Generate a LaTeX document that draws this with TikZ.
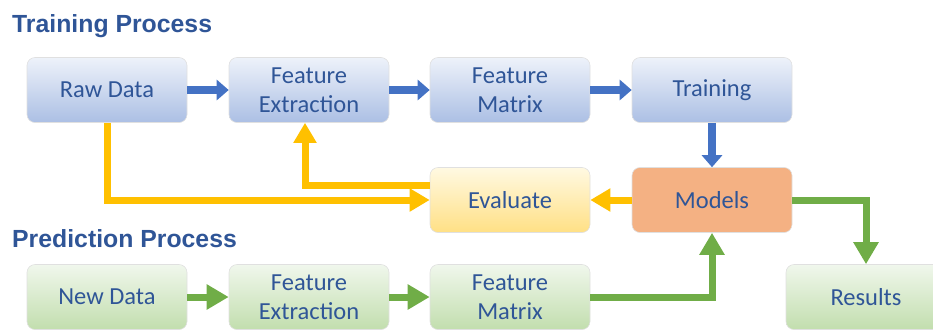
\documentclass[tikz,border=0pt]{standalone}
\usepackage{fontspec}
\setmainfont{Carlito}
\newfontfamily\headfont{Liberation Sans}
\usetikzlibrary{arrows.meta}
\definecolor{txtblue}{HTML}{2F5597}
\definecolor{blueTop}{HTML}{EEF2FA}
\definecolor{blueBot}{HTML}{ABBFE4}
\definecolor{greenTop}{HTML}{F0F7EC}
\definecolor{greenBot}{HTML}{C2DEAE}
\definecolor{yelTop}{HTML}{FFF9E2}
\definecolor{yelBot}{HTML}{FFE085}
\definecolor{modelFill}{HTML}{F4B183}
\definecolor{arrBlue}{HTML}{4472C4}
\definecolor{arrYel}{HTML}{FFC000}
\definecolor{arrGreen}{HTML}{70AD47}
\tikzset{
  box/.style={rounded corners=8pt, minimum width=160pt, minimum height=65pt,
    align=center, text=txtblue, draw=black!12, line width=0.6pt,
    font=\fontsize{24.5}{29}\selectfont},
  trainbox/.style={box, top color=blueTop, bottom color=blueBot},
  predbox/.style={box, top color=greenTop, bottom color=greenBot},
  evalbox/.style={box, top color=yelTop, bottom color=yelBot},
  modelbox/.style={box, fill=modelFill},
  heading/.style={anchor=base west, inner sep=0pt, text=txtblue,
    font=\headfont\bfseries\fontsize{24.8}{28}\selectfont},
  blueflow/.style={draw=arrBlue, line width=8pt, -{Triangle[width=20pt,length=12pt]}},
  yelflow/.style={draw=arrYel, line width=7pt, -{Triangle[width=22pt,length=20pt]}},
  greenflow/.style={draw=arrGreen, line width=7pt, -{Triangle[width=24pt,length=22pt]}},
}
\begin{document}
\begin{tikzpicture}[x=1pt,y=-1pt]
  \useasboundingbox (0,0) rectangle (933,330);
  % headings
  \node[heading] (trainhead) at (12,32) {Training Process};
  \node[heading] (predhead) at (12,247) {Prediction Process};
  % training row
  \node[trainbox] (raw) at (107,90) {Raw Data};
  \node[trainbox] (fe) at (309,90) {Feature\\Extraction};
  \node[trainbox] (fm) at (510,90) {Feature\\Matrix};
  \node[trainbox] (train) at (712,90) {Training};
  % middle row
  \node[evalbox] (eval) at (510,200) {Evaluate};
  \node[modelbox] (models) at (712,200) {Models};
  % prediction row
  \node[predbox] (new) at (107,297) {New Data};
  \node[predbox] (fe2) at (309,297) {Feature\\Extraction};
  \node[predbox] (fm2) at (510,297) {Feature\\Matrix};
  \node[predbox] (res) at (866,297) {Results};
  % training arrows
  \draw[blueflow] (raw) -- (fe);
  \draw[blueflow] (fe) -- (fm);
  \draw[blueflow] (fm) -- (train);
  \draw[blueflow] (train) -- (models);
  % evaluation loop
  \draw[yelflow] (raw.south) |- (eval.west);
  \draw[yelflow] ([yshift=15pt]eval.west) -| ([xshift=-4pt]fe.south);
  \draw[yelflow] (models) -- (eval);
  % prediction arrows
  \draw[greenflow] (new) -- (fe2);
  \draw[greenflow] (fe2) -- (fm2);
  \draw[greenflow] (fm2.east) -| (models.south);
  \draw[greenflow] (models.east) -| (res.north);
\end{tikzpicture}
\end{document}
